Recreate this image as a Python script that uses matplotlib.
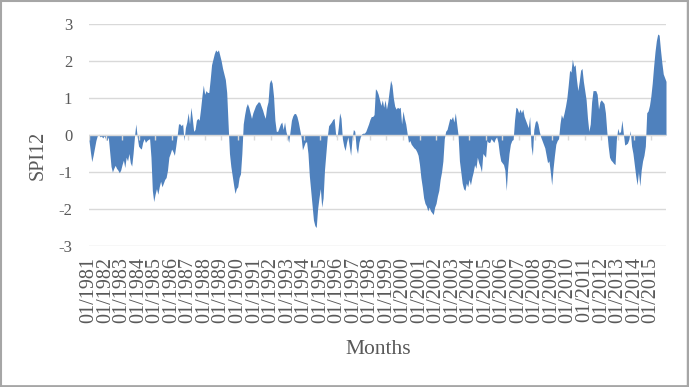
import numpy as np
import matplotlib
matplotlib.use("Agg")
import matplotlib.pyplot as plt
from matplotlib.lines import Line2D

# SPI12 monthly values, one row per year (Jan..Dec)
years = list(range(1981, 2016))
spi12 = [
    -0.15, -0.45, -0.72, -0.55, -0.35, -0.15, -0.02, 0.02, -0.05, -0.03, -0.08, -0.02,  # 1981
    -0.10, -0.15, -0.05, -0.45, -0.85, -1.00, -0.90, -0.82, -0.90, -0.95, -1.02, -0.95,  # 1982
    -0.80, -0.68, -0.88, -0.60, -0.70, -0.50, -0.75, -0.84, -0.50, -0.05, 0.30, -0.05,  # 1983
    -0.30, -0.35, -0.38, -0.20, -0.10, -0.20, -0.15, -0.12, -0.10, -0.60, -1.50, -1.80,  # 1984
    -1.60, -1.45, -1.60, -1.40, -1.25, -1.40, -1.30, -1.20, -1.15, -0.95, -0.60, -0.50,  # 1985
    -0.38, -0.45, -0.55, -0.30, -0.02, 0.30, 0.30, 0.25, 0.30, -0.15, 0.20, 0.35,  # 1986
    0.60, 0.30, 0.75, 0.45, 0.10, 0.15, 0.40, 0.45, 0.40, 0.70, 1.05, 1.35,  # 1987
    1.10, 1.20, 1.15, 1.15, 1.50, 1.90, 2.05, 2.20, 2.30, 2.25, 2.30, 2.15,  # 1988
    2.00, 1.80, 1.65, 1.50, 1.15, 0.30, -0.50, -0.85, -1.10, -1.35, -1.58, -1.45,  # 1989
    -1.40, -1.15, -1.05, -0.50, 0.30, 0.55, 0.75, 0.85, 0.75, 0.60, 0.45, 0.60,  # 1990
    0.70, 0.80, 0.85, 0.90, 0.88, 0.78, 0.68, 0.55, 0.45, 0.75, 0.90, 1.40,  # 1991
    1.50, 1.40, 1.05, 0.40, 0.10, 0.10, 0.20, 0.30, 0.35, 0.15, 0.35, 0.10,  # 1992
    -0.05, -0.20, 0.10, 0.40, 0.52, 0.58, 0.58, 0.50, 0.35, 0.15, -0.05, -0.40,  # 1993
    -0.30, -0.20, -0.18, -0.50, -1.10, -1.50, -1.90, -2.30, -2.45, -2.50, -2.00, -1.70,  # 1994
    -1.45, -1.95, -1.70, -0.95, -0.50, -0.05, 0.25, 0.30, 0.35, 0.42, 0.45, 0.05,  # 1995
    -0.10, 0.20, 0.60, 0.45, -0.10, -0.30, -0.42, -0.20, -0.05, -0.30, -0.55, -0.10,  # 1996
    0.15, 0.10, -0.35, -0.50, -0.20, -0.05, 0.03, 0.05, 0.05, 0.10, 0.20, 0.30,  # 1997
    0.42, 0.50, 0.50, 0.55, 1.25, 1.20, 1.10, 0.95, 0.80, 0.95, 0.75, 0.95,  # 1998
    0.70, 0.90, 1.20, 1.48, 1.35, 1.00, 0.78, 0.70, 0.75, 0.72, 0.75, 0.30,  # 1999
    0.65, 0.45, 0.30, 0.05, -0.20, -0.15, -0.25, -0.30, -0.35, -0.38, -0.45, -0.55,  # 2000
    -0.80, -1.15, -1.40, -1.70, -1.85, -1.92, -2.05, -1.95, -2.05, -2.10, -2.15, -1.95,  # 2001
    -1.85, -1.65, -1.50, -1.20, -1.00, -0.70, -0.10, 0.10, 0.15, 0.30, 0.45, 0.42,  # 2002
    0.50, 0.35, 0.60, 0.30, 0.00, -0.70, -1.00, -1.30, -1.45, -1.50, -1.30, -1.40,  # 2003
    -1.20, -1.35, -1.15, -1.00, -0.80, -0.90, -0.60, -0.75, -0.85, -1.00, -0.50, -0.55,  # 2004
    -0.60, -0.15, -0.20, -0.20, -0.10, -0.15, -0.20, -0.10, -0.05, -0.20, -0.50, -0.70,  # 2005
    -0.75, -0.80, -0.95, -1.50, -0.90, -0.50, -0.25, -0.15, -0.12, 0.40, 0.75, 0.72,  # 2006
    0.60, 0.70, 0.60, 0.70, 0.50, 0.40, 0.30, 0.20, 0.50, -0.30, -0.55, 0.15,  # 2007
    0.35, 0.40, 0.30, 0.10, -0.05, -0.15, -0.25, -0.35, -0.55, -0.75, -0.70, -1.00,  # 2008
    -1.35, -0.90, -0.55, -0.25, -0.15, -0.10, 0.30, 0.55, 0.45, 0.60, 0.78, 1.00,  # 2009
    1.35, 1.75, 1.70, 2.05, 1.85, 1.90, 1.50, 1.20, 1.45, 1.75, 1.80, 1.45,  # 2010
    1.20, 0.95, 0.45, 0.10, 0.30, 0.90, 1.20, 1.20, 1.20, 1.10, 0.70, 0.90,  # 2011
    0.95, 0.90, 0.85, 0.60, 0.10, -0.30, -0.60, -0.68, -0.72, -0.77, -0.80, -0.10,  # 2012
    0.18, 0.05, 0.10, 0.40, 0.05, -0.27, -0.25, -0.22, -0.12, 0.12, -0.30, -0.50,  # 2013
    -0.80, -1.10, -1.35, -1.00, -1.38, -0.95, -0.70, -0.55, -0.30, 0.60, 0.65, 0.80,  # 2014
    1.05, 1.40, 1.85, 2.25, 2.55, 2.73, 2.70, 2.30, 1.95, 1.65, 1.55, 1.45,  # 2015
]
tick_labels = ["01/%d" % y for y in years]
y_ticks = [3, 2, 1, 0, -1, -2, -3]

W, H = 689, 387
blue = "#4F81BD"
grid_col = "#D9D9D9"
text_col = "#595959"
border_col = "#A6A6A6"
font = "Liberation Serif"

fig = plt.figure(figsize=(W / 100, H / 100), dpi=100)
fig.patch.set_facecolor("white")

# plot area in pixel units -> figure fraction
left, right, top, bottom = 89, 666, 24, 246
ax = fig.add_axes([left / W, 1 - bottom / H, (right - left) / W, (bottom - top) / H])

months = np.arange(len(spi12))
ax.fill_between(months, 0, spi12, color=blue, linewidth=0, zorder=2)

ax.set_xlim(0, len(spi12) - 1)
ax.set_ylim(-3, 3)
ax.set_yticks(y_ticks)
ax.set_yticklabels([str(v) for v in y_ticks], fontsize=12, family=font, color=text_col)
ax.yaxis.grid(True, color=grid_col, linewidth=1.0, zorder=1)
ax.set_axisbelow(True)
for s in ax.spines.values():
    s.set_visible(False)
ax.tick_params(axis="y", length=0, pad=12)

# horizontal axis line sits at zero, with small tick marks hanging below it
tick_pos = np.arange(0, len(spi12), 12)
ax.axhline(0, color=grid_col, linewidth=1.0, zorder=3)
ax.vlines(tick_pos, -0.13, 0, color=grid_col, linewidth=1.0, zorder=3)

ax.set_xticks(tick_pos)
ax.set_xticklabels(tick_labels, rotation=90, fontsize=14.5, family=font, color=text_col)
ax.tick_params(axis="x", length=0, pad=8)

fig.text(38 / W, 1 - 155 / H, "SPI12", rotation=90, ha="center", va="center",
         fontsize=14.5, family=font, color=text_col)
fig.text(378 / W, 1 - 349 / H, "Months", ha="center", va="center",
         fontsize=15.5, family=font, color=text_col)

# chart border (a touch heavier on the right and bottom, like the original)
px = 1.0 / W
py = 1.0 / H
edges = [
    ([0.5 * px, 0.5 * px], [0, 1], 1.5),
    ([0, 1], [1 - 0.5 * py, 1 - 0.5 * py], 1.5),
    ([1 - 1.5 * px, 1 - 1.5 * px], [0, 1], 2.5),
    ([0, 1], [1.2 * py, 1.2 * py], 2.0),
]
for xs, ys, lw in edges:
    fig.add_artist(Line2D(xs, ys, transform=fig.transFigure, color=border_col, linewidth=lw))

fig.savefig("out.png", dpi=100)
